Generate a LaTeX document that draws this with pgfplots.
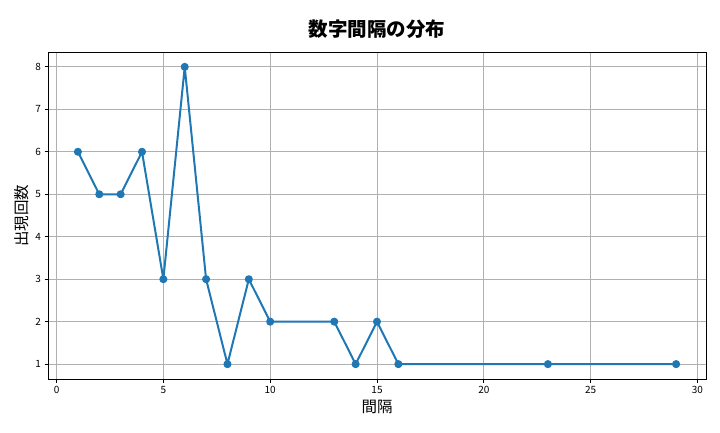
\documentclass[border=0pt]{standalone}
\usepackage{fontspec}
\setmainfont{Noto Sans CJK JP}
\usepackage{pgfplots}
\pgfplotsset{compat=1.18}
\definecolor{mplblue}{HTML}{1F77B4}
\definecolor{mplgrid}{HTML}{B0B0B0}
\begin{document}
\begin{tikzpicture}[x=1pt,y=1pt]
\useasboundingbox (0,0) rectangle (720,432);
\begin{axis}[
    at={(48pt,53pt)}, anchor=south west,
    scale only axis,
    width=658pt, height=327pt,
    xmin=-0.4, xmax=30.4,
    ymin=0.65, ymax=8.35,
    xtick={0,5,10,15,20,25,30},
    ytick={1,2,3,4,5,6,7,8},
    grid=major,
    grid style={mplgrid, line width=0.8pt},
    tick align=outside,
    tick pos=left,
    major tick length=3.5pt,
    tick style={black, line width=0.8pt},
    axis line style={line width=0.8pt},
    ticklabel style={font=\fontsize{10}{12}\selectfont},
    /pgf/number format/assume math mode=true,
    xlabel={間隔},
    ylabel={出現回数},
    label style={font=\fontsize{15.5}{18}\selectfont},
    title={\textbf{数字間隔の分布}},
    title style={font=\fontsize{19.5}{23}\selectfont, yshift=4pt},
]
\addplot[mplblue, line width=2pt, line join=round, line cap=round, mark=*, mark size=3pt, mark options={fill=mplblue, draw=mplblue}]
  coordinates {(1,6) (2,5) (3,5) (4,6) (5,3) (6,8) (7,3) (8,1) (9,3) (10,2) (13,2) (14,1) (15,2) (16,1) (23,1) (29,1)};
\end{axis}
\end{tikzpicture}
\end{document}
